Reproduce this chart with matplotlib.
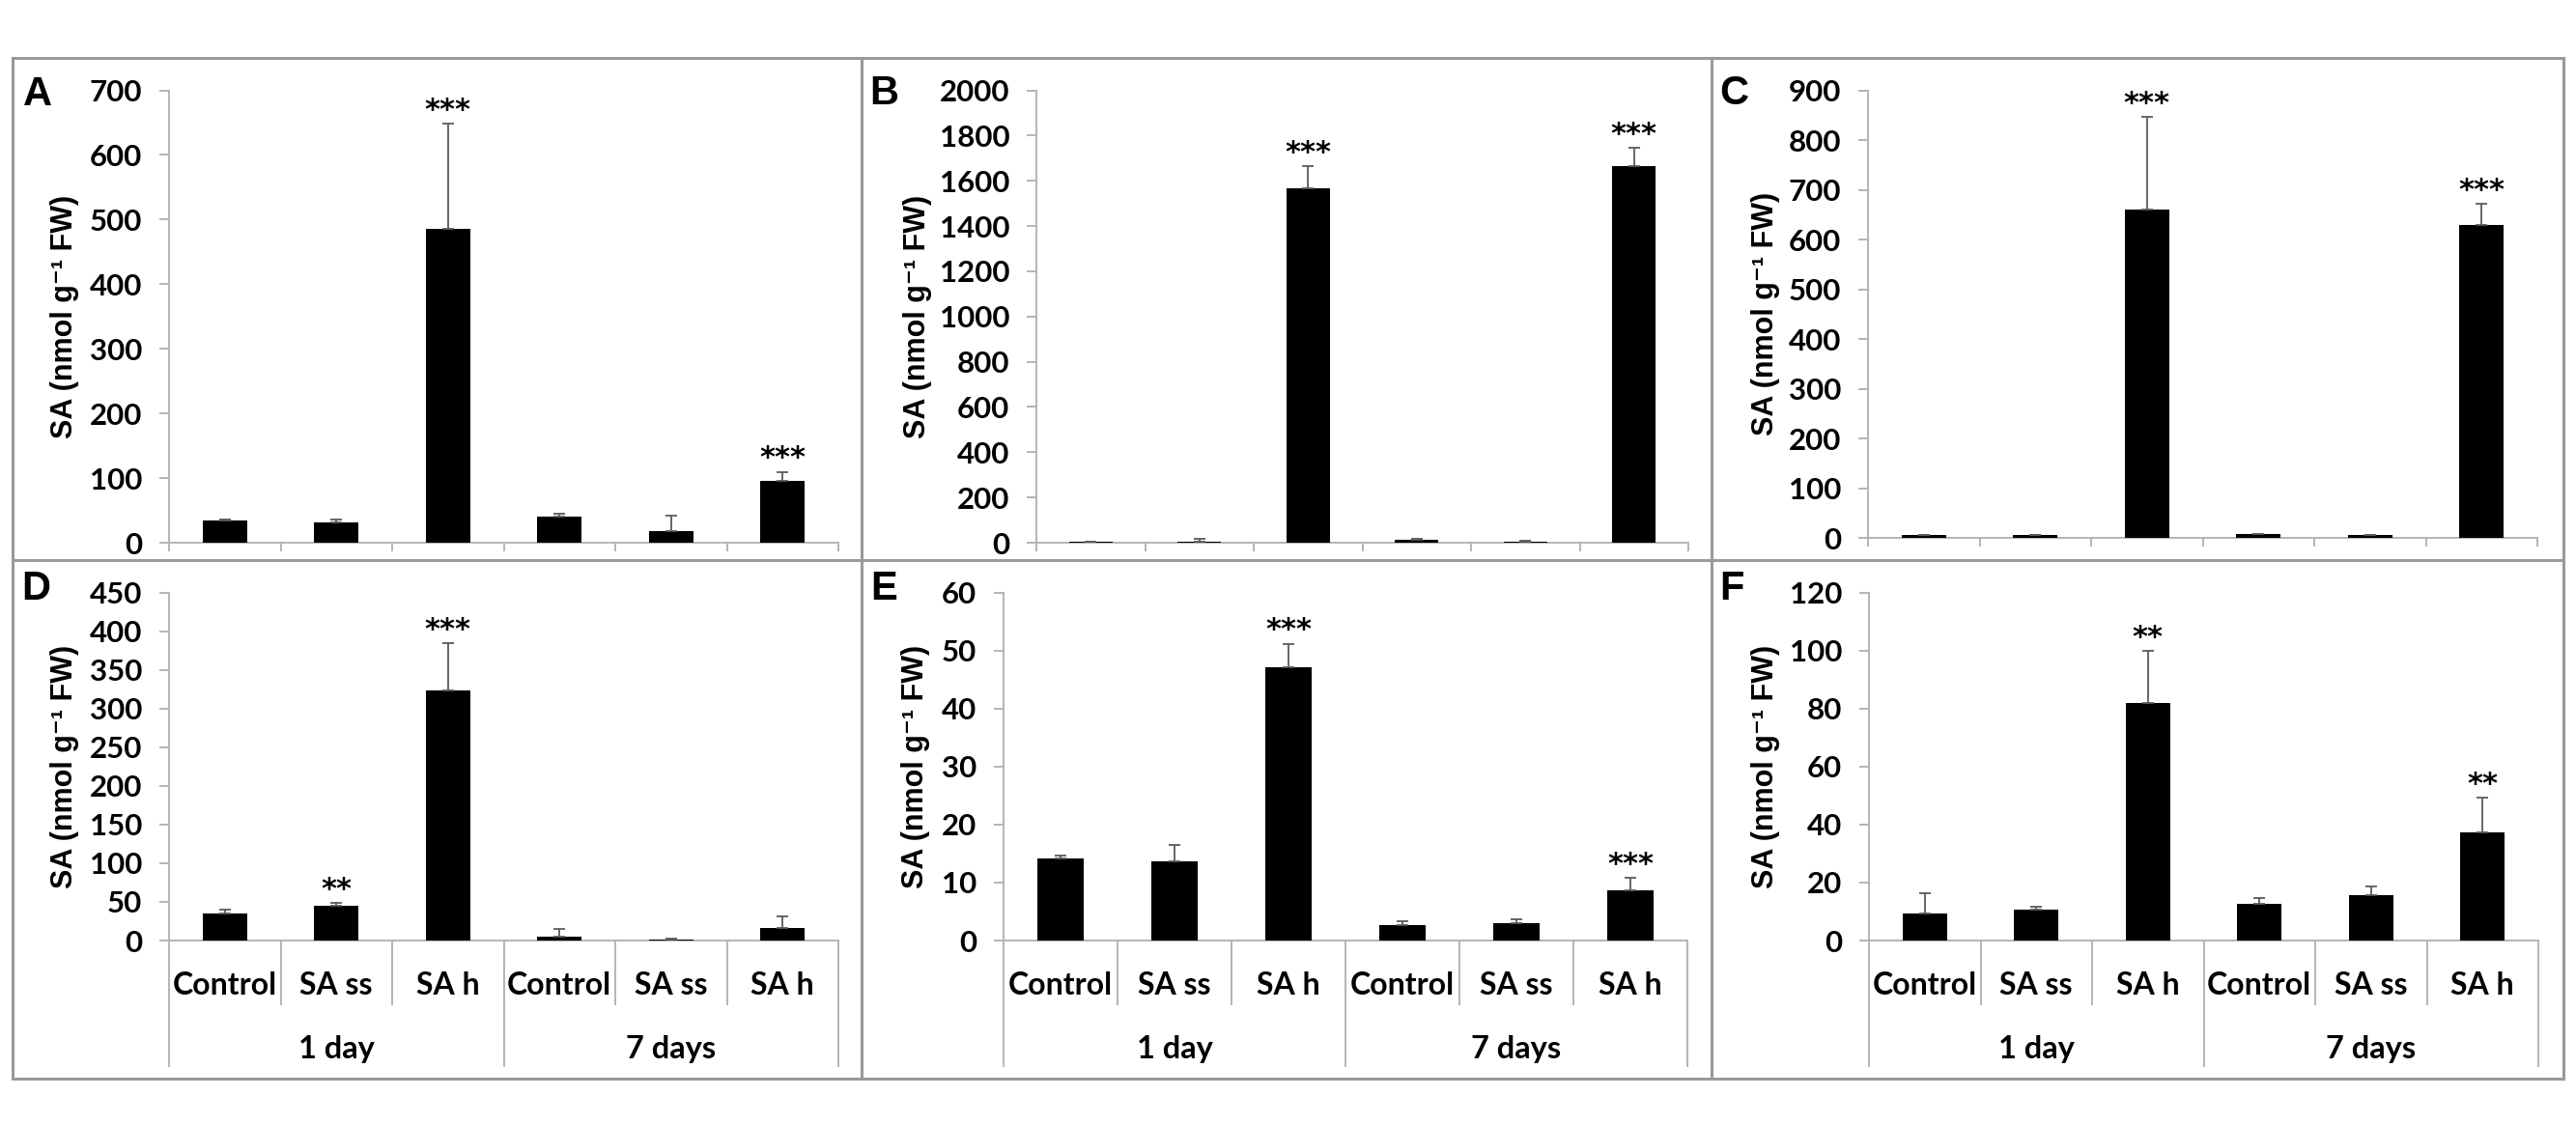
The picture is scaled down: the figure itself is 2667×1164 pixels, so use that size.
import matplotlib
matplotlib.use("Agg")
import matplotlib.pyplot as plt
from matplotlib.lines import Line2D
import numpy as np

W, H = 2667, 1164
DPI = 100

categories = ['Control', 'SA ss', 'SA h', 'Control', 'SA ss', 'SA h']
groups = ['1 day', '7 days']
ylabel = 'SA (nmol g\u207b\u00b9 FW)'

# panel A
sa_a = [34, 32, 486, 41, 18.5, 95]
err_a = [2, 4, 162, 4, 24, 14]
stars_a = ['', '', '***', '', '', '***']
# panel B
sa_b = [5, 6, 1568, 12, 6, 1667]
err_b = [1, 10, 95, 3, 4, 78]
stars_b = ['', '', '***', '', '', '***']
# panel C
sa_c = [5, 5, 660, 7, 5, 630]
err_c = [1.5, 1.5, 186, 1.5, 1.5, 41]
stars_c = ['', '', '***', '', '', '***']
# panel D
sa_d = [35, 45.5, 323, 5, 1.8, 16]
err_d = [4.5, 3, 61, 10, 1.2, 15]
stars_d = ['', '**', '***', '', '', '']
# panel E
sa_e = [14.2, 13.6, 47.1, 2.6, 3.0, 8.6]
err_e = [0.4, 2.9, 4.0, 0.8, 0.7, 2.2]
stars_e = ['', '', '***', '', '', '***']
# panel F
sa_f = [9.4, 10.6, 81.9, 12.5, 15.7, 37.3]
err_f = [7.0, 1.2, 17.8, 2.0, 3.1, 11.9]
stars_f = ['', '', '**', '', '', '**']

GRAY = '#b4b4b4'
FRAME = '#9a9a9a'
ERRC = '#5a5a5a'
TXT = ['Lato', 'DejaVu Sans']
LAB = ['Liberation Sans', 'DejaVu Sans']

plt.rcParams['font.family'] = TXT
plt.rcParams['font.weight'] = 'bold'

fig = plt.figure(figsize=(W / DPI, H / DPI), dpi=DPI)


def fx(x):
    return x / W


def fy(y):
    return 1 - y / H


# frame around the six panels
for xs, ys in [([13, 2654], [60, 60]), ([13, 2654], [1117, 1117]),
               ([13, 13], [60, 1117]), ([2654, 2654], [60, 1117]),
               ([892, 892], [60, 1117]), ([1772, 1772], [60, 1117]),
               ([13, 2654], [580, 580])]:
    fig.add_artist(Line2D([fx(v) for v in xs], [fy(v) for v in ys],
                          color=FRAME, lw=2.2))

panels = [
    # letter, values, errors, stars, ymax, step, left, right, top, bottom, letter pos, ylabel x, bottom row
    ('A', sa_a, err_a, stars_a, 700, 100, 175, 868, 93.5, 562, (24, 109), 67, False),
    ('B', sa_b, err_b, stars_b, 2000, 200, 1073, 1748, 93.5, 562, (900, 108), 950, False),
    ('C', sa_c, err_c, stars_c, 900, 100, 1934, 2627, 93.5, 557, (1780, 108), 1828, False),
    ('D', sa_d, err_d, stars_d, 450, 50, 175, 868, 613.5, 974, (22, 621), 67, True),
    ('E', sa_e, err_e, stars_e, 60, 10, 1039, 1747, 613.5, 974, (901, 621), 948, True),
    ('F', sa_f, err_f, stars_f, 120, 20, 1935, 2628, 613.5, 974, (1780, 621), 1828, True),
]

x = np.arange(len(categories))

for (letter, vals, errs, stars, ymax, step, l, r, t, b, lpos, ylx, bottom) in panels:
    ax = fig.add_axes([fx(l), fy(b), (r - l) / W, (b - t) / H])
    axh = b - t
    ax.bar(x, vals, width=0.40, color='black', zorder=3)
    ax.errorbar(x, vals, yerr=[np.zeros(len(errs)), errs], fmt='none',
                ecolor=ERRC, elinewidth=1.3, capsize=4, capthick=1.3, zorder=4)
    ax.set_xlim(-0.5, 5.5)
    ax.set_ylim(0, ymax)
    ax.set_yticks(np.arange(0, ymax + step / 2, step))
    ax.tick_params(axis='y', direction='out', length=7, width=1.4, color=GRAY,
                   pad=13, labelsize=22.5)
    for lab in ax.get_yticklabels():
        lab.set_fontweight('bold')
    for s in ['top', 'right']:
        ax.spines[s].set_visible(False)
    for s in ['left', 'bottom']:
        ax.spines[s].set_color(GRAY)
        ax.spines[s].set_linewidth(1.4)

    # significance marks
    for i, st in enumerate(stars):
        if st:
            ax.annotate(st, (x[i], vals[i] + errs[i]), xytext=(0, 4),
                        textcoords='offset points', ha='center', va='baseline',
                        fontsize=22, fontweight='bold', family='DejaVu Sans',
                        annotation_clip=False)

    tr = ax.get_xaxis_transform()
    if not bottom:
        ax.set_xticks(np.arange(-0.5, 6, 1))
        ax.set_xticklabels([])
        ax.tick_params(axis='x', direction='out', length=6.5, width=1.4, color=GRAY)
    else:
        ax.set_xticks([])
        short = -(1040 - b) / axh
        long_ = -(1104 - b) / axh
        for k in range(7):
            xb = k - 0.5
            y1 = long_ if k in (0, 3, 6) else short
            ax.plot([xb, xb], [0, y1], transform=tr, color=GRAY, lw=1.4,
                    clip_on=False)
        for i, c in enumerate(categories):
            ax.text(x[i], -(1030 - b) / axh, c, transform=tr, ha='center',
                    va='baseline', fontsize=23, fontweight='bold')
        for g, gname in enumerate(groups):
            ax.text(1 + 3 * g, -(1096 - b) / axh, gname, transform=tr,
                    ha='center', va='baseline', fontsize=23.5, fontweight='bold')

    fig.text(fx(ylx), fy((t + b) / 2), ylabel, rotation=90, ha='center',
             va='center', fontsize=22, fontweight='bold', family=LAB)
    fig.text(fx(lpos[0]), fy(lpos[1]), letter, ha='left', va='baseline',
             fontsize=30, fontweight='bold', family=LAB)

fig.savefig('out.png', dpi=DPI, facecolor='white')
